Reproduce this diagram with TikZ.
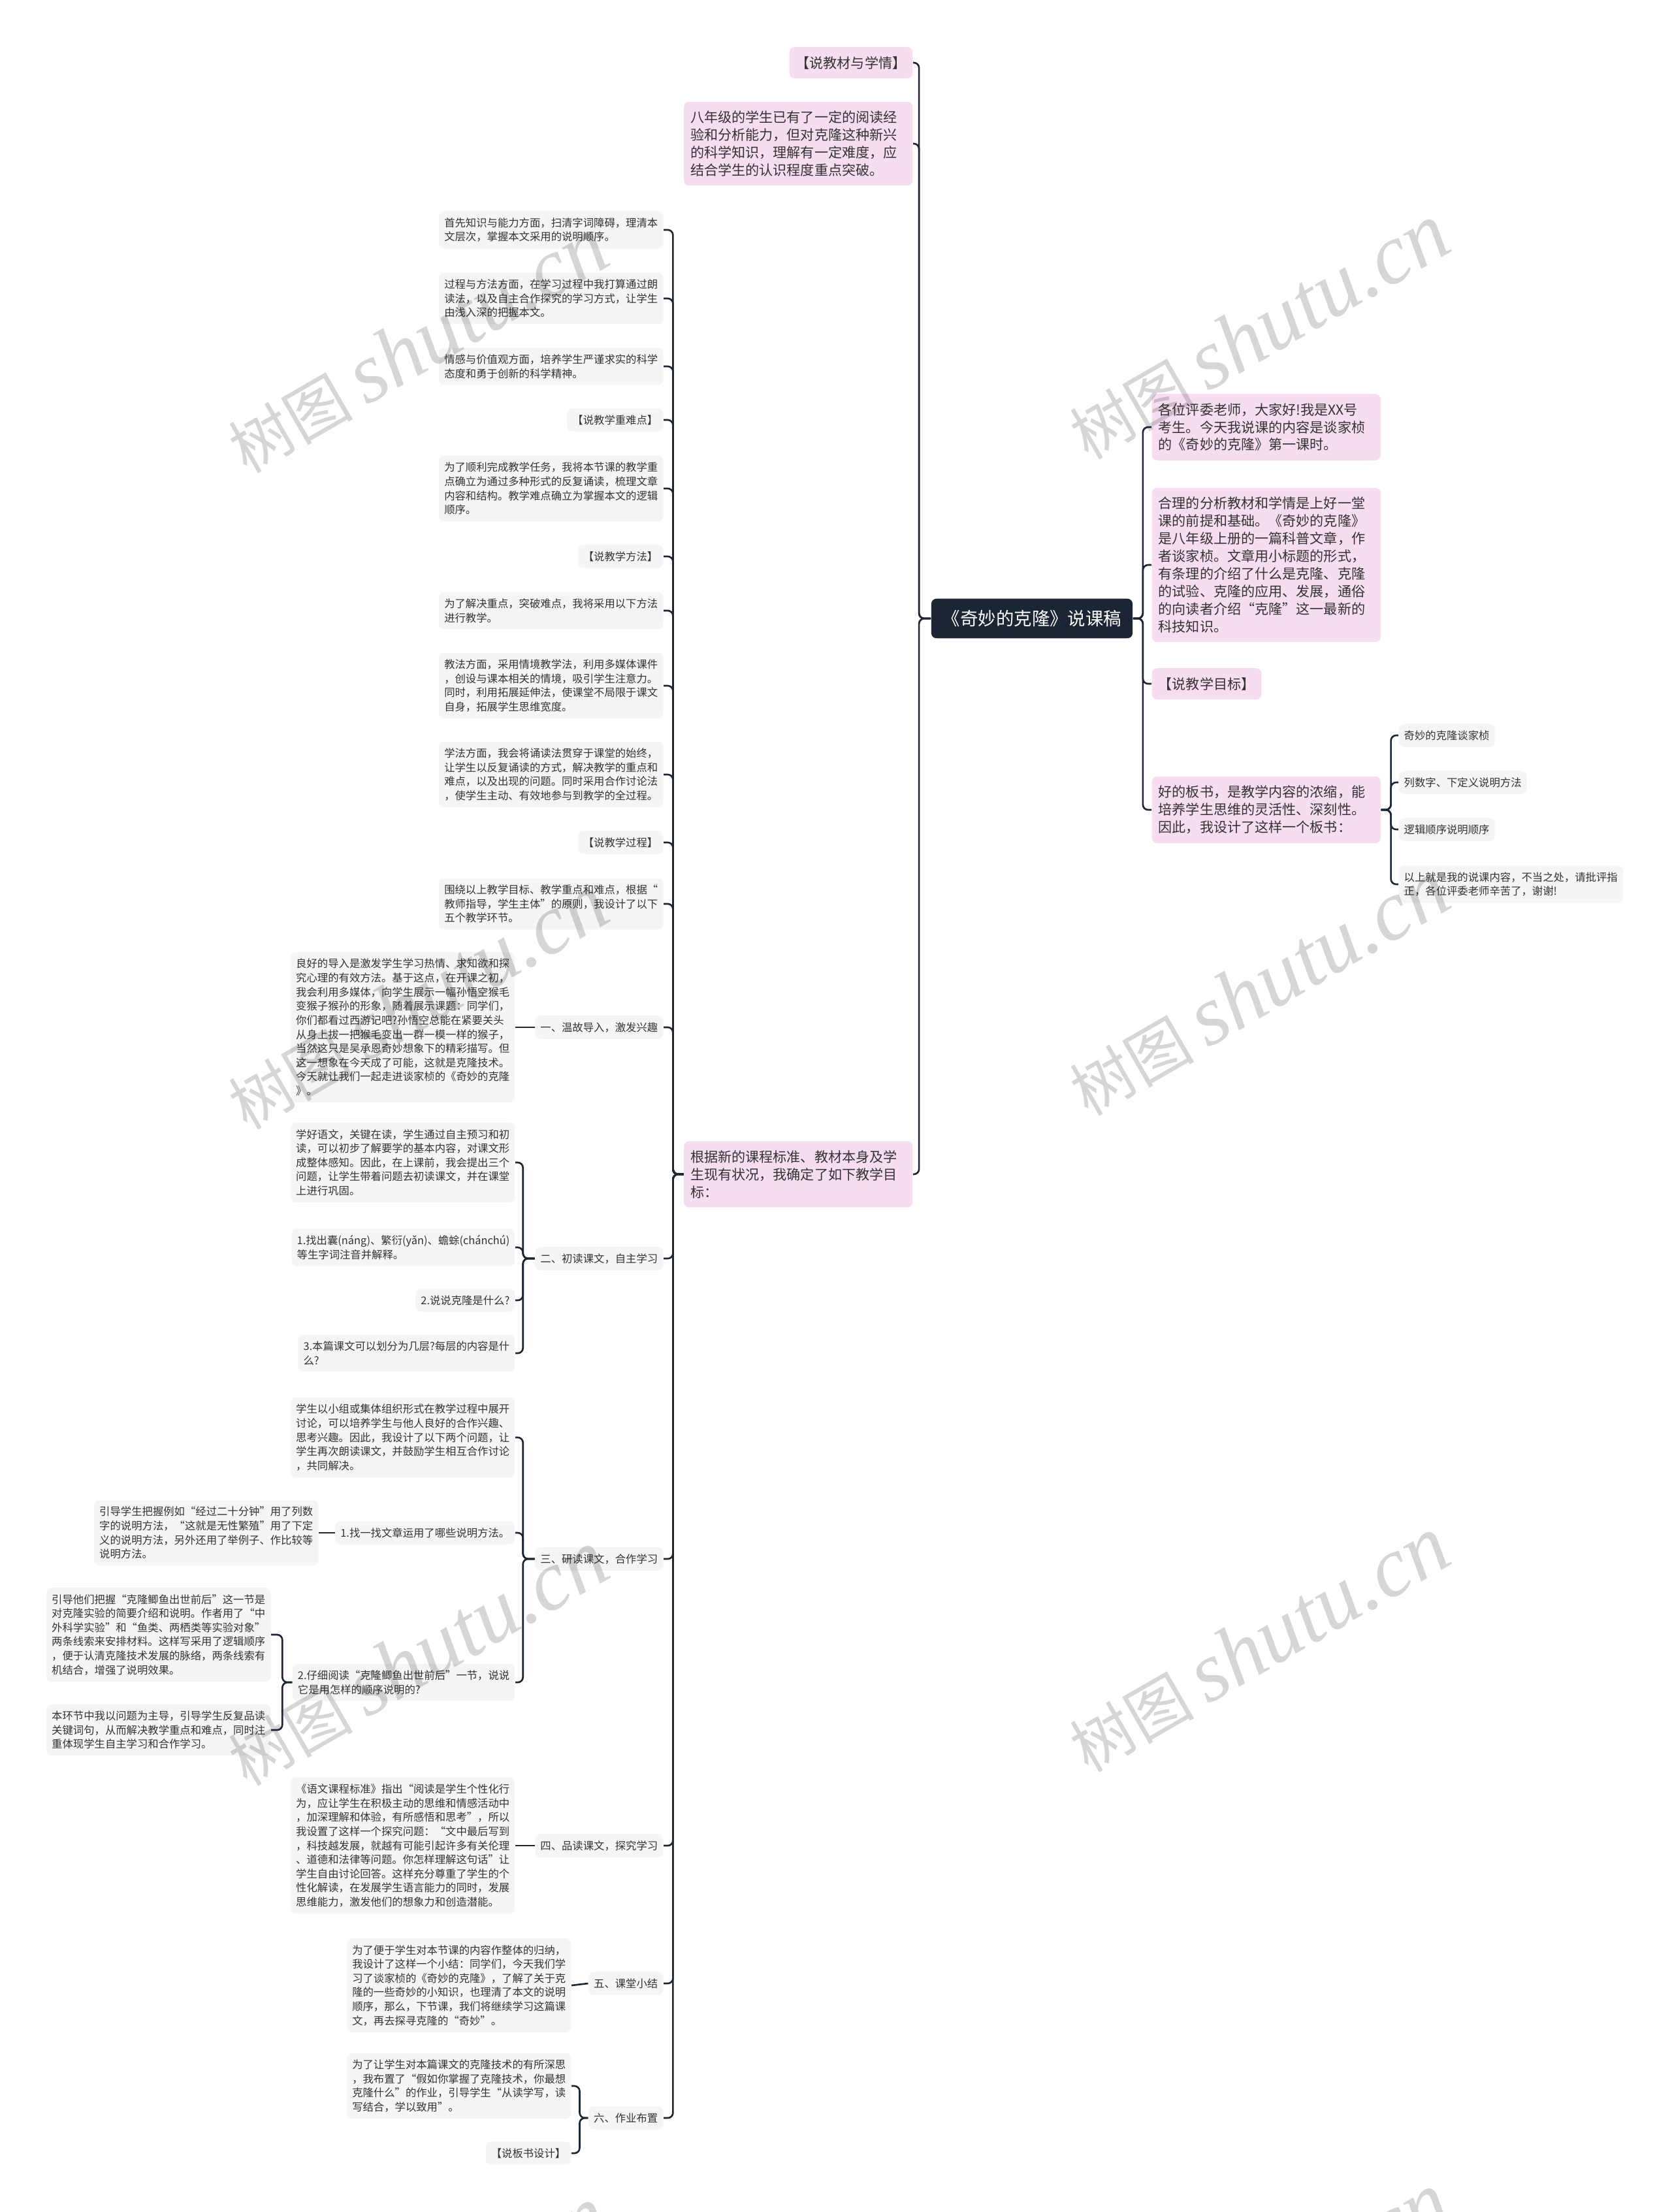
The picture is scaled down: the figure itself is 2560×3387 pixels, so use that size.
\documentclass[tikz,border=0pt]{standalone}
\usepackage{fontspec}
\setmainfont{Noto Sans CJK SC}
\newfontfamily\wmlatin{Liberation Serif}
\usetikzlibrary{positioning}
\definecolor{navy}{HTML}{1B2533}
\definecolor{pinkfill}{HTML}{F6DDF0}
\definecolor{greyfill}{HTML}{F5F5F5}
\definecolor{linecol}{HTML}{1B2533}
\definecolor{textcol}{HTML}{333333}

\newcommand\smallfs{\fontsize{4.65pt}{6.15pt}\selectfont}
\newcommand\pinkfs{\fontsize{6pt}{7.65pt}\selectfont}
\newcommand\rootfs{\fontsize{7.8pt}{9pt}\selectfont}

\tikzset{
  pinknode/.style={fill=pinkfill, text=textcol, rounded corners=0.8mm, inner xsep=1mm, inner ysep=1.4mm, align=left, font=\pinkfs},
  widepink/.style={text width=3.3cm},
  greynode/.style={fill=greyfill, text=textcol, rounded corners=0.8mm, inner xsep=0.8mm, inner ysep=1mm, align=left, font=\smallfs},
  rootnode/.style={fill=navy, text=white, rounded corners=0.8mm, inner xsep=1.7mm, inner ysep=1.75mm, font=\rootfs},
  link/.style={draw=linecol, line width=0.75pt, rounded corners=0.8mm},
  watermark/.style={rotate=30, text=black, opacity=0.16, inner sep=0pt}
}

\begin{document}
\begin{tikzpicture}[x=0.01cm, y=-0.01cm]
\useasboundingbox (0,0) rectangle (2560,3387);
\fill[white] (0,0) rectangle (2560,3387);
\clip (0,0) rectangle (2560,3387);

% Root
\node[rootnode] (root) at (1580,947) {《奇妙的克隆》说课稿};

% Left main branch
\node[pinknode, anchor=east] (jiaocai) at (1398,96) {【说教材与学情】};
\node[pinknode, widepink, anchor=east] (xueqing) at (1398,220) {八年级的学生已有了一定的阅读经\\验和分析能力，但对克隆这种新兴\\的科学知识，理解有一定难度，应\\结合学生的认识程度重点突破。};
\node[pinknode, widepink, anchor=east] (mubiao) at (1398,1798) {根据新的课程标准、教材本身及学\\生现有状况，我确定了如下教学目\\标：};

% Goals and process
\node[greynode, anchor=east] (g1) at (1016,352) {首先知识与能力方面，扫清字词障碍，理清本\\文层次，掌握本文采用的说明顺序。};
\node[greynode, anchor=east] (g2) at (1016,457) {过程与方法方面，在学习过程中我打算通过朗\\读法，以及自主合作探究的学习方式，让学生\\由浅入深的把握本文。};
\node[greynode, anchor=east] (g3) at (1016,561) {情感与价值观方面，培养学生严谨求实的科学\\态度和勇于创新的科学精神。};
\node[greynode, anchor=east] (g4) at (1016,643) {【说教学重难点】};
\node[greynode, anchor=east] (g5) at (1016,748) {为了顺利完成教学任务，我将本节课的教学重\\点确立为通过多种形式的反复诵读，梳理文章\\内容和结构。教学难点确立为掌握本文的逻辑\\顺序。};
\node[greynode, anchor=east] (g6) at (1016,852) {【说教学方法】};
\node[greynode, anchor=east] (g7) at (1016,935) {为了解决重点，突破难点，我将采用以下方法\\进行教学。};
\node[greynode, anchor=east] (g8) at (1016,1050) {教法方面，采用情境教学法，利用多媒体课件\\，创设与课本相关的情境，吸引学生注意力。\\同时，利用拓展延伸法，使课堂不局限于课文\\自身，拓展学生思维宽度。};
\node[greynode, anchor=east] (g9) at (1016,1186) {学法方面，我会将诵读法贯穿于课堂的始终，\\让学生以反复诵读的方式，解决教学的重点和\\难点，以及出现的问题。同时采用合作讨论法\\，使学生主动、有效地参与到教学的全过程。};
\node[greynode, anchor=east] (g10) at (1016,1290) {【说教学过程】};
\node[greynode, anchor=east] (g11) at (1016,1384) {围绕以上教学目标、教学重点和难点，根据“\\教师指导，学生主体”的原则，我设计了以下\\五个教学环节。};

% Steps
\node[greynode, anchor=east] (s1) at (1016,1573) {一、温故导入，激发兴趣};
\node[greynode, anchor=east] (s2) at (1016,1927) {二、初读课文，自主学习};
\node[greynode, anchor=east] (s3) at (1016,2387) {三、研读课文，合作学习};
\node[greynode, anchor=east] (s4) at (1016,2826) {四、品读课文，探究学习};
\node[greynode, anchor=east] (s5) at (1016,3037) {五、课堂小结};
\node[greynode, anchor=east] (s6) at (1016,3243) {六、作业布置};

% Step one
\node[greynode, anchor=east] (t1) at (789,1573) {良好的导入是激发学生学习热情、求知欲和探\\究心理的有效方法。基于这点，在开课之初，\\我会利用多媒体，向学生展示一幅孙悟空猴毛\\变猴子猴孙的形象，随着展示课题：同学们，\\你们都看过西游记吧?孙悟空总能在紧要关头\\从身上拔一把猴毛变出一群一模一样的猴子，\\当然这只是吴承恩奇妙想象下的精彩描写。但\\这一想象在今天成了可能，这就是克隆技术。\\今天就让我们一起走进谈家桢的《奇妙的克隆\\》。};

% Step two
\node[greynode, anchor=east] (u1) at (789,1780) {学好语文，关键在读，学生通过自主预习和初\\读，可以初步了解要学的基本内容，对课文形\\成整体感知。因此，在上课前，我会提出三个\\问题，让学生带着问题去初读课文，并在课堂\\上进行巩固。};
\node[greynode, anchor=east] (u2) at (789,1910) {1.找出囊(náng)、繁衍(yǎn)、蟾蜍(chánchú)\\等生字词注音并解释。};
\node[greynode, anchor=east] (u3) at (789,1991) {2.说说克隆是什么?};
\node[greynode, anchor=east] (u4) at (789,2072) {3.本篇课文可以划分为几层?每层的内容是什\\么?};

% Step three
\node[greynode, anchor=east] (v1) at (789,2201) {学生以小组或集体组织形式在教学过程中展开\\讨论，可以培养学生与他人良好的合作兴趣、\\思考兴趣。因此，我设计了以下两个问题，让\\学生再次朗读课文，并鼓励学生相互合作讨论\\，共同解决。};
\node[greynode, anchor=east] (v2) at (789,2347) {1.找一找文章运用了哪些说明方法。};
\node[greynode, anchor=east] (v3) at (789,2576) {2.仔细阅读“克隆鲫鱼出世前后”一节，说说\\它是用怎样的顺序说明的?};
\node[greynode, anchor=east] (w1) at (488,2347) {引导学生把握例如“经过二十分钟”用了列数\\字的说明方法，“这就是无性繁殖”用了下定\\义的说明方法，另外还用了举例子、作比较等\\说明方法。};
\node[greynode, anchor=east] (w2) at (415,2503) {引导他们把握“克隆鲫鱼出世前后”这一节是\\对克隆实验的简要介绍和说明。作者用了“中\\外科学实验”和“鱼类、两栖类等实验对象”\\两条线索来安排材料。这样写采用了逻辑顺序\\，便于认清克隆技术发展的脉络，两条线索有\\机结合，增强了说明效果。};
\node[greynode, anchor=east] (w3) at (415,2649) {本环节中我以问题为主导，引导学生反复品读\\关键词句，从而解决教学重点和难点，同时注\\重体现学生自主学习和合作学习。};

% Steps four to six
\node[greynode, anchor=east] (x1) at (789,2826) {《语文课程标准》指出“阅读是学生个性化行\\为，应让学生在积极主动的思维和情感活动中\\，加深理解和体验，有所感悟和思考”，所以\\我设置了这样一个探究问题：“文中最后写到\\，科技越发展，就越有可能引起许多有关伦理\\、道德和法律等问题。你怎样理解这句话”让\\学生自由讨论回答。这样充分尊重了学生的个\\性化解读，在发展学生语言能力的同时，发展\\思维能力，激发他们的想象力和创造潜能。};
\node[greynode, anchor=east] (y1) at (875,3040) {为了便于学生对本节课的内容作整体的归纳，\\我设计了这样一个小结：同学们，今天我们学\\习了谈家桢的《奇妙的克隆》，了解了关于克\\隆的一些奇妙的小知识，也理清了本文的说明\\顺序，那么，下节课，我们将继续学习这篇课\\文，再去探寻克隆的“奇妙”。};
\node[greynode, anchor=east] (z1) at (875,3194) {为了让学生对本篇课文的克隆技术的有所深思\\，我布置了“假如你掌握了克隆技术，你最想\\克隆什么”的作业，引导学生“从读学写，读\\写结合，学以致用”。};
\node[greynode, anchor=east] (z2) at (875,3297) {【说板书设计】};

% Right main branch
\node[pinknode, widepink, anchor=west] (r1) at (1763,654) {各位评委老师，大家好!我是XX号\\考生。今天我说课的内容是谈家桢\\的《奇妙的克隆》第一课时。};
\node[pinknode, widepink, anchor=west] (r2) at (1763,865) {合理的分析教材和学情是上好一堂\\课的前提和基础。《奇妙的克隆》\\是八年级上册的一篇科普文章，作\\者谈家桢。文章用小标题的形式，\\有条理的介绍了什么是克隆、克隆\\的试验、克隆的应用、发展，通俗\\的向读者介绍“克隆”这一最新的\\科技知识。};
\node[pinknode, anchor=west] (r3) at (1763,1047) {【说教学目标】};
\node[pinknode, widepink, anchor=west] (r4) at (1763,1240) {好的板书，是教学内容的浓缩，能\\培养学生思维的灵活性、深刻性。\\因此，我设计了这样一个板书：};

% Board design
\node[greynode, anchor=west] (b1) at (2141,1126) {奇妙的克隆谈家桢};
\node[greynode, anchor=west] (b2) at (2141,1198) {列数字、下定义说明方法};
\node[greynode, anchor=west] (b3) at (2141,1270) {逻辑顺序说明顺序};
\node[greynode, anchor=west] (b4) at (2141,1354) {以上就是我的说课内容，不当之处，请批评指\\正，各位评委老师辛苦了，谢谢!};

% Connectors
\foreach \c in {jiaocai,xueqing,mubiao}
  \draw[link] (root.west) -- ++(-18,0) |- (\c.east);
\foreach \c in {r1,r2,r3,r4}
  \draw[link] (root.east) -- ++(15,0) |- (\c.west);
\foreach \c in {g1,g2,g3,g4,g5,g6,g7,g8,g9,g10,g11,s1,s2,s3,s4,s5,s6}
  \draw[link] (mubiao.west) -- ++(-16,0) |- (\c.east);
\foreach \c in {u1,u2,u3,u4}
  \draw[link] (s2.west) -- ++(-18,0) |- (\c.east);
\foreach \c in {v1,v2,v3}
  \draw[link] (s3.west) -- ++(-18,0) |- (\c.east);
\foreach \c in {w2,w3}
  \draw[link] (v3.west) -- ++(-15,0) |- (\c.east);
\foreach \c in {z1,z2}
  \draw[link] (s6.west) -- ++(-13,0) |- (\c.east);
\foreach \c in {b1,b2,b3,b4}
  \draw[link] (r4.east) -- ++(15,0) |- (\c.west);
\draw[link] (s1.west) -- (t1.east);
\draw[link] (v2.west) -- (w1.east);
\draw[link] (s4.west) -- (x1.east);
\draw[link] (s5.west) -- (y1.east);

% Watermarks
\foreach \wx/\wy [count=\i] in {639/529, 1927/508, 639/1534, 1927/1513, 639/2539, 1927/2518, 639/3544, 1927/3523}
  \node[watermark] (wm\i) at (\wx,\wy) {\fontsize{27pt}{27pt}\selectfont 树图\ {\wmlatin\itshape\fontsize{37pt}{37pt}\selectfont shutu.cn}};

\end{tikzpicture}
\end{document}
